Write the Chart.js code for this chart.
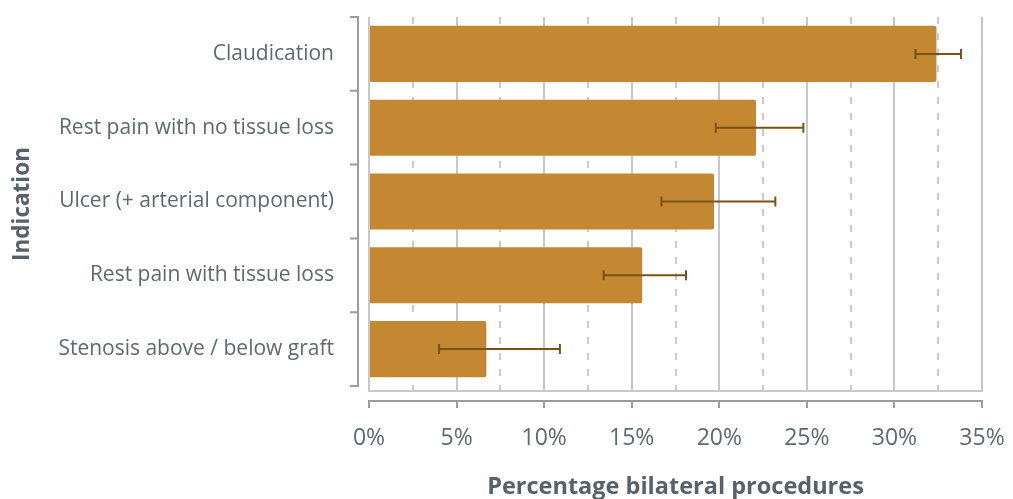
<!DOCTYPE html>
<html>
<head>
<meta charset="utf-8">
<script src="https://cdn.jsdelivr.net/npm/chart.js@4/dist/chart.umd.min.js"></script>
<style>
  html, body { margin: 0; padding: 0; background: #ffffff; }
  #wrap { width: 1013px; height: 499px; }
</style>
</head>
<body>
<div id="wrap"><canvas id="c" width="1013" height="499"></canvas></div>
<script>
// Share of procedures that were bilateral, by indication
const indications = [
  'Claudication',
  'Rest pain with no tissue loss',
  'Ulcer (+ arterial component)',
  'Rest pain with tissue loss',
  'Stenosis above / below graft'
];
const bilateralPct = [32.4, 22.1, 19.7, 15.6, 6.7];
const ciLow  = [31.2, 19.8, 16.7, 13.4, 4.0];
const ciHigh = [33.8, 24.8, 23.2, 18.1, 10.9];
const pctTicks = [0, 5, 10, 15, 20, 25, 30, 35];

const TEXT = '#5e6a6c';
const TITLE = '#55626a';
const AXIS = '#9c9c9c';
const GRID = '#c8c8c8';
const NONE = 'rgba(0,0,0,0)';
const FONT = '"Open Sans", "Noto Sans", sans-serif';

// Left bracket axis with tick marks on the category boundaries
const bracketAxis = {
  id: 'bracketAxis',
  afterDraw(chart) {
    const y = chart.scales.y;
    const ctx = chart.ctx;
    const x = chart.chartArea.left - 11;
    const top = y.getPixelForValue(-0.5);
    const bottom = y.getPixelForValue(indications.length - 0.5);
    ctx.save();
    ctx.strokeStyle = AXIS;
    ctx.lineWidth = 2;
    ctx.beginPath();
    ctx.moveTo(x, top);
    ctx.lineTo(x, bottom);
    for (let k = 0; k <= indications.length; k++) {
      const py = y.getPixelForValue(k - 0.5);
      ctx.moveTo(x + 1, py);
      ctx.lineTo(x - 8, py);
    }
    ctx.stroke();
    ctx.restore();
  }
};

// Horizontal error bars drawn over the bars
const errorBars = {
  id: 'errorBars',
  afterDatasetsDraw(chart) {
    const xs = chart.scales.x, ys = chart.scales.y, ctx = chart.ctx;
    ctx.save();
    ctx.strokeStyle = '#7a5214';
    ctx.lineWidth = 2;
    for (let i = 0; i < indications.length; i++) {
      const py = ys.getPixelForValue(i);
      const x1 = xs.getPixelForValue(ciLow[i]);
      const x2 = xs.getPixelForValue(ciHigh[i]);
      ctx.beginPath();
      ctx.moveTo(x1, py); ctx.lineTo(x2, py);
      ctx.moveTo(x1, py - 5); ctx.lineTo(x1, py + 5);
      ctx.moveTo(x2, py - 5); ctx.lineTo(x2, py + 5);
      ctx.stroke();
    }
    ctx.restore();
  }
};

new Chart(document.getElementById('c'), {
  type: 'bar',
  data: {
    datasets: [{
      data: bilateralPct.map((v, i) => ({ x: v, y: i })),
      backgroundColor: '#c48832',
      borderWidth: 0,
      borderRadius: 2,
      barPercentage: 0.76,
      categoryPercentage: 1.0
    }]
  },
  options: {
    indexAxis: 'y',
    responsive: false,
    animation: false,
    devicePixelRatio: 1,
    layout: { padding: { top: 17, right: 31, left: 0, bottom: 0 } },
    plugins: { legend: { display: false }, tooltip: { enabled: false } },
    scales: {
      y: {
        type: 'linear',
        position: 'left',
        reverse: true,
        offset: false,
        min: -0.5,
        max: indications.length - 0.5 + 0.068,
        grid: { display: true, drawOnChartArea: false, drawTicks: true, tickLength: 32, tickColor: NONE, color: NONE },
        border: { display: false },
        ticks: {
          stepSize: 1,
          includeBounds: false,
          padding: 3,
          color: TEXT,
          font: { family: FONT, size: 21 },
          callback: v => Number.isInteger(v) ? indications[v] : ''
        },
        title: {
          display: true,
          text: 'Indication',
          color: TITLE,
          font: { family: FONT, size: 22.5, weight: 'bold' },
          padding: { top: 9, bottom: 0 }
        },
        afterFit: s => { s.width = 369; }
      },
      // solid gridlines every 5% and the plot's bottom edge
      x: {
        type: 'linear',
        position: 'bottom',
        weight: 0,
        min: 0, max: 35,
        ticks: { display: false, stepSize: 5 },
        grid: { color: GRID, lineWidth: 2, drawTicks: true, tickLength: 10, tickColor: NONE },
        border: { display: true, color: GRID, width: 2 }
      },
      // dashed gridlines at the half steps
      xMinor: {
        type: 'linear',
        position: 'bottom',
        weight: 1,
        min: 0, max: 35,
        ticks: { display: false, stepSize: 2.5 },
        grid: {
          lineWidth: 2,
          drawTicks: false,
          color: c => (c.tick && Math.abs(c.tick.value % 5) > 0.01) ? '#cacaca' : NONE
        },
        border: { display: false, dash: [7, 9] }
      },
      // detached axis line with its tick marks
      xTicks: {
        type: 'linear',
        position: 'bottom',
        weight: 2,
        min: 0, max: 35,
        afterBuildTicks: s => { s.ticks = pctTicks.map(v => ({ value: v })); },
        ticks: { display: false },
        grid: { drawOnChartArea: false, drawTicks: true, tickLength: 7, tickWidth: 2, tickColor: AXIS, color: AXIS, lineWidth: 2 },
        border: { display: true, color: AXIS, width: 2 }
      },
      // percentage labels and axis title
      xLab: {
        type: 'linear',
        position: 'bottom',
        weight: 3,
        min: 0, max: 35,
        afterBuildTicks: s => { s.ticks = pctTicks.map(v => ({ value: v })); },
        ticks: {
          padding: 0,
          color: TEXT,
          font: { family: FONT, size: 23 },
          callback: v => v + '%'
        },
        grid: { drawOnChartArea: false, drawTicks: true, tickLength: 17, tickColor: NONE, color: NONE },
        border: { display: false },
        title: {
          display: true,
          text: 'Percentage bilateral procedures',
          color: TITLE,
          font: { family: FONT, size: 23.5, weight: 'bold', lineHeight: 1.0 },
          padding: { top: 0, bottom: 0 }
        },
        afterFit: s => { s.height = 91; }
      }
    }
  },
  plugins: [bracketAxis, errorBars]
});
</script>
</body>
</html>
